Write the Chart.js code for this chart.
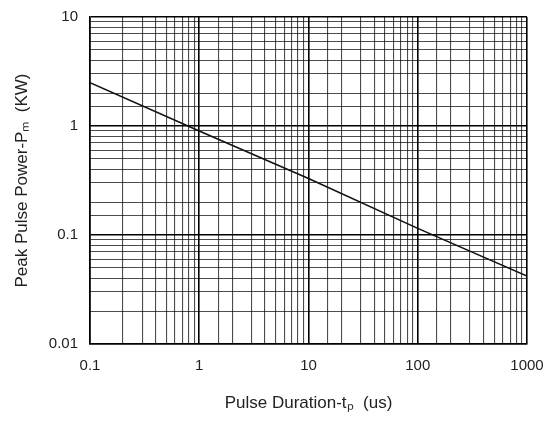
<!DOCTYPE html>
<html>
<head>
<meta charset="utf-8">
<script src="https://cdn.jsdelivr.net/npm/chart.js@4/dist/chart.umd.min.js"></script>
<style>
html,body{margin:0;padding:0;background:#fff;}
#wrap{width:554px;height:421px;}
</style>
</head>
<body>
<div id="wrap"><canvas id="c" width="554" height="421"></canvas></div>
<script>
const pulseDuration = [0.1, 1, 10, 100, 1000];
const peakPower = [2.5, 0.9, 0.33, 0.115, 0.042];
const xTickLabels = [0.1, 1, 10, 100, 1000];
const yTickLabels = [0.01, 0.1, 1, 10];
const xTitle = 'Pulse Duration-tₚ  (us)';
const yTitle = 'Peak Pulse Power-Pₘ  (KW)';

function isMajor(v, list){
  return list.some(t => Math.abs(t - v) / t < 1e-6);
}
function gridColor(list){
  return ctx => {
    const v = ctx.tick && ctx.tick.value;
    return isMajor(v, list) ? '#000' : 'rgba(0,0,0,0.7)';
  };
}
function gridWidth(list){
  return ctx => {
    const v = ctx.tick && ctx.tick.value;
    return isMajor(v, list) ? 1.6 : 1.1;
  };
}
const FONT = 'Liberation Sans, Arial, sans-serif';

new Chart(document.getElementById('c'), {
  type: 'line',
  data: {
    datasets: [{
      data: pulseDuration.map((x, i) => ({x: x, y: peakPower[i]})),
      borderColor: '#111',
      borderWidth: 1.6,
      pointRadius: 0,
      fill: false,
      tension: 0
    }]
  },
  options: {
    responsive: false,
    animation: false,
    devicePixelRatio: 1,
    layout: {padding: {left: 0, right: 27, top: 17, bottom: 0}},
    plugins: {legend: {display: false}, tooltip: {enabled: false}},
    scales: {
      x: {
        type: 'logarithmic',
        min: 0.1, max: 1000,
        grid: {color: gridColor(xTickLabels), lineWidth: gridWidth(xTickLabels), drawTicks: false},
        border: {color: '#000', width: 1.5},
        ticks: {
          autoSkip: false, maxRotation: 0, padding: 13,
          color: '#222',
          font: {family: FONT, size: 15},
          callback: v => isMajor(v, xTickLabels) ? String(v) : ''
        },
        title: {display: true, text: xTitle, color: '#222', padding: {top: 4, bottom: 7},
          font: {family: FONT, size: 17}},
        afterFit: s => { s.height = 77; s.paddingLeft = 0; s.paddingRight = 0; }
      },
      y: {
        type: 'logarithmic',
        min: 0.01, max: 10,
        grid: {color: gridColor(yTickLabels), lineWidth: gridWidth(yTickLabels), drawTicks: false},
        border: {color: '#000', width: 1.5},
        ticks: {
          autoSkip: false, padding: 12,
          color: '#222',
          font: {family: FONT, size: 15},
          callback: v => isMajor(v, yTickLabels) ? String(v) : ''
        },
        title: {display: true, text: yTitle, color: '#222', padding: {top: 12, bottom: 0},
          font: {family: FONT, size: 17}},
        afterFit: s => { s.width = 90; s.paddingTop = 0; s.paddingBottom = 0; }
      }
    }
  }
});
</script>
</body>
</html>
